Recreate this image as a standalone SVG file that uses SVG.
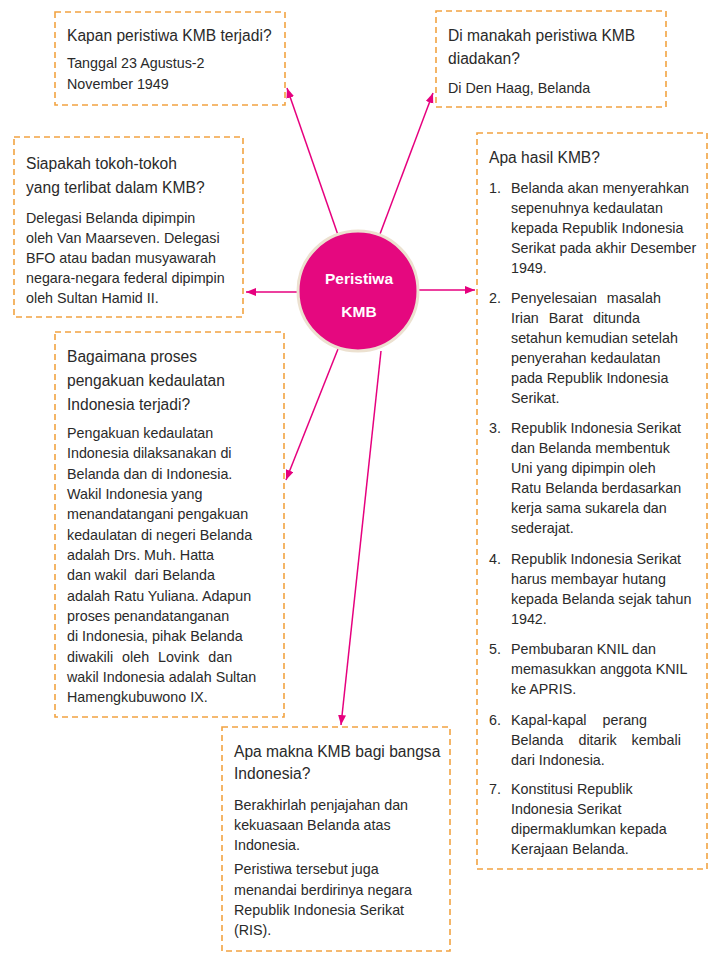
<svg xmlns="http://www.w3.org/2000/svg" width="720" height="960" viewBox="0 0 720 960">
<style>
.box{fill:#ffffff;stroke:#f2a341;stroke-width:1.6;stroke-dasharray:6 4}
.q{font-family:"Liberation Sans",Arial,sans-serif;font-size:15.6px;fill:#2a2a2a}
.b{font-family:"Liberation Sans",Arial,sans-serif;font-size:14.3px;fill:#2a2a2a}
.conn line{stroke:#e6007e;stroke-width:1.5;fill:none}
.ctitle{font-family:"Liberation Sans",Arial,sans-serif;font-size:15.5px;font-weight:bold;fill:#ffffff}
</style>
<defs>
<marker id="ah" markerUnits="userSpaceOnUse" markerWidth="12" markerHeight="10" refX="10" refY="4" orient="auto">
<path d="M0,0 L10,4 L0,8 Z" fill="#e6007e"/>
</marker>
</defs>
<rect width="720" height="960" fill="#ffffff"/>

<g class="conn" id="connectors">
<line x1="338" y1="235" x2="287" y2="88" marker-end="url(#ah)"/>
<line x1="380" y1="234" x2="433" y2="93" marker-end="url(#ah)"/>
<line x1="298" y1="292" x2="246" y2="292" marker-end="url(#ah)"/>
<line x1="418" y1="290" x2="475" y2="290" marker-end="url(#ah)"/>
<line x1="338" y1="349" x2="286" y2="480" marker-end="url(#ah)"/>
<line x1="381" y1="351" x2="341" y2="725" marker-end="url(#ah)"/>
</g>

<g id="center">
<circle cx="358" cy="291" r="60" fill="#e5087f" stroke="#ece1d0" stroke-width="3"/>
<text class="ctitle" text-anchor="middle"><tspan x="359" y="284">Peristiwa</tspan><tspan x="359" y="317">KMB</tspan></text>
</g>

<g id="kapan">
<rect class="box" x="55" y="12" width="230" height="93"/>
<text class="q" x="67" y="41">Kapan peristiwa KMB terjadi?</text>
<text class="b"><tspan x="67" y="68">Tanggal 23 Agustus-2</tspan><tspan x="67" y="89">November 1949</tspan></text>
</g>

<g id="dimana">
<rect class="box" x="436" y="11" width="230" height="96"/>
<text class="q"><tspan x="448" y="41">Di manakah peristiwa KMB</tspan><tspan x="448" y="64">diadakan?</tspan></text>
<text class="b" x="448" y="93">Di Den Haag, Belanda</text>
</g>

<g id="siapakah">
<rect class="box" x="14" y="137" width="229" height="180"/>
<text class="q"><tspan x="26" y="169">Siapakah tokoh-tokoh</tspan><tspan x="26" y="193">yang terlibat dalam KMB?</tspan></text>
<text class="b"><tspan x="26" y="223">Delegasi Belanda dipimpin</tspan><tspan x="26" y="243">oleh Van Maarseven. Delegasi</tspan><tspan x="26" y="263">BFO atau badan musyawarah</tspan><tspan x="26" y="283">negara-negara federal dipimpin</tspan><tspan x="26" y="303">oleh Sultan Hamid II.</tspan></text>
</g>

<g id="hasil">
<rect class="box" x="477" y="133" width="230" height="736"/>
<text class="q" x="489" y="163">Apa hasil KMB?</text>
<text class="b">
<tspan x="489" y="193">1.</tspan><tspan x="511" y="193">Belanda akan menyerahkan</tspan><tspan x="511" y="213">sepenuhnya kedaulatan</tspan><tspan x="511" y="233">kepada Republik Indonesia</tspan><tspan x="511" y="253">Serikat pada akhir Desember</tspan><tspan x="511" y="273">1949.</tspan>
<tspan x="489" y="303">2.</tspan><tspan x="511" y="303" word-spacing="6">Penyelesaian masalah</tspan><tspan x="511" y="323" word-spacing="6">Irian Barat ditunda</tspan><tspan x="511" y="343">setahun kemudian setelah</tspan><tspan x="511" y="363">penyerahan kedaulatan</tspan><tspan x="511" y="383">pada Republik Indonesia</tspan><tspan x="511" y="403">Serikat.</tspan>
<tspan x="489" y="433">3.</tspan><tspan x="511" y="433">Republik Indonesia Serikat</tspan><tspan x="511" y="453">dan Belanda membentuk</tspan><tspan x="511" y="473">Uni yang dipimpin oleh</tspan><tspan x="511" y="493">Ratu Belanda berdasarkan</tspan><tspan x="511" y="513">kerja sama sukarela dan</tspan><tspan x="511" y="533">sederajat.</tspan>
<tspan x="489" y="564">4.</tspan><tspan x="511" y="564">Republik Indonesia Serikat</tspan><tspan x="511" y="584">harus membayar hutang</tspan><tspan x="511" y="604">kepada Belanda sejak tahun</tspan><tspan x="511" y="624">1942.</tspan>
<tspan x="489" y="654">5.</tspan><tspan x="511" y="654">Pembubaran KNIL dan</tspan><tspan x="511" y="674">memasukkan anggota KNIL</tspan><tspan x="511" y="694">ke APRIS.</tspan>
<tspan x="489" y="725">6.</tspan><tspan x="511" y="725" word-spacing="12">Kapal-kapal perang</tspan><tspan x="511" y="745" word-spacing="11">Belanda ditarik kembali</tspan><tspan x="511" y="765">dari Indonesia.</tspan>
<tspan x="489" y="794">7.</tspan><tspan x="511" y="794">Konstitusi Republik</tspan><tspan x="511" y="814">Indonesia Serikat</tspan><tspan x="511" y="834">dipermaklumkan kepada</tspan><tspan x="511" y="854">Kerajaan Belanda.</tspan>
</text>
</g>

<g id="bagaimana">
<rect class="box" x="55" y="332" width="229" height="385"/>
<text class="q"><tspan x="67" y="362">Bagaimana proses</tspan><tspan x="67" y="386">pengakuan kedaulatan</tspan><tspan x="67" y="410">Indonesia terjadi?</tspan></text>
<text class="b"><tspan x="67" y="438">Pengakuan kedaulatan</tspan><tspan x="67" y="458">Indonesia dilaksanakan di</tspan><tspan x="67" y="479">Belanda dan di Indonesia.</tspan><tspan x="67" y="499">Wakil Indonesia yang</tspan><tspan x="67" y="519">menandatangani pengakuan</tspan><tspan x="67" y="540">kedaulatan di negeri Belanda</tspan><tspan x="67" y="560">adalah Drs. Muh. Hatta</tspan><tspan x="67" y="580">dan wakil</tspan><tspan dx="8">dari Belanda</tspan><tspan x="67" y="601">adalah Ratu Yuliana. Adapun</tspan><tspan x="67" y="621">proses penandatanganan</tspan><tspan x="67" y="641">di Indonesia, pihak Belanda</tspan><tspan x="67" y="662" word-spacing="5">diwakili oleh Lovink dan</tspan><tspan x="67" y="682">wakil Indonesia adalah Sultan</tspan><tspan x="67" y="702">Hamengkubuwono IX.</tspan></text>
</g>

<g id="makna">
<rect class="box" x="222" y="727" width="228" height="224"/>
<text class="q"><tspan x="234" y="757">Apa makna KMB bagi bangsa</tspan><tspan x="234" y="779">Indonesia?</tspan></text>
<text class="b"><tspan x="234" y="810">Berakhirlah penjajahan dan</tspan><tspan x="234" y="830">kekuasaan Belanda atas</tspan><tspan x="234" y="850">Indonesia.</tspan><tspan x="234" y="874">Peristiwa tersebut juga</tspan><tspan x="234" y="895">menandai berdirinya negara</tspan><tspan x="234" y="915">Republik Indonesia Serikat</tspan><tspan x="234" y="935">(RIS).</tspan></text>
</g>
</svg>
